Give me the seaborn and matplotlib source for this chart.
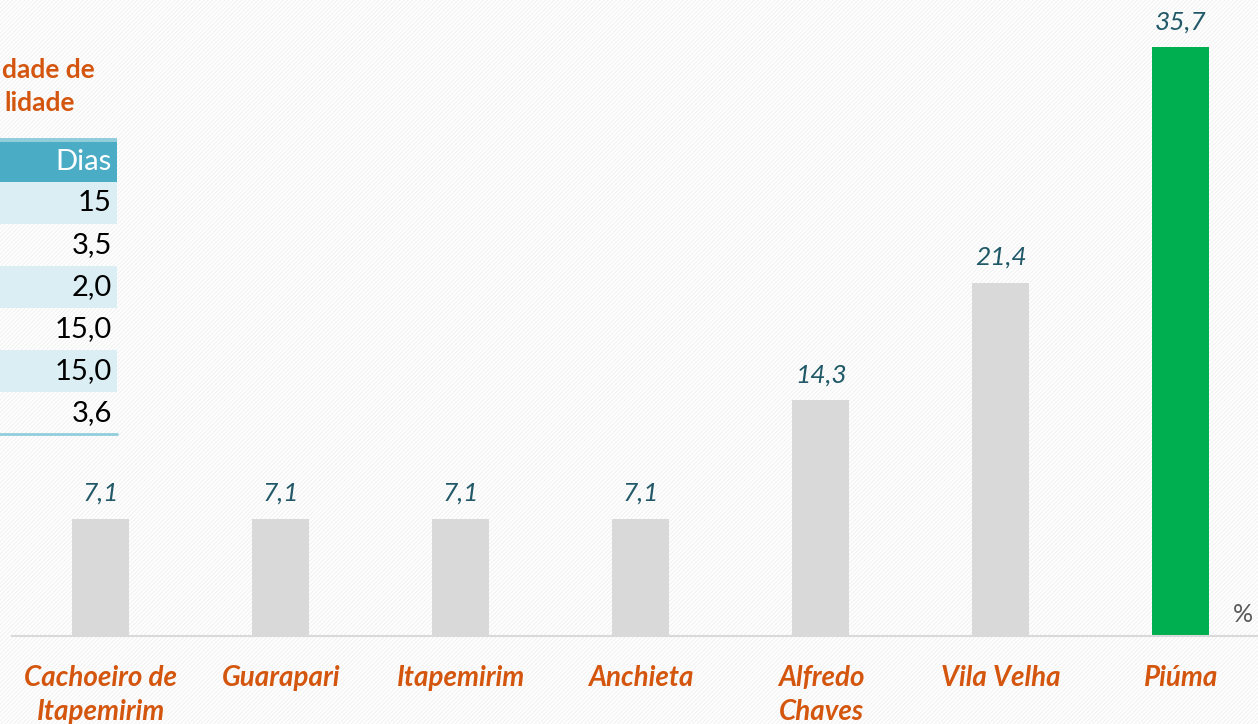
import pandas as pd
import matplotlib.pyplot as plt
from matplotlib.patches import Rectangle
import seaborn as sns

# dados do grafico
municipios = ["Cachoeiro de\nItapemirim", "Guarapari", "Itapemirim", "Anchieta",
              "Alfredo\nChaves", "Vila Velha", "Piúma"]
percentual = [7.1, 7.1, 7.1, 7.1, 14.3, 21.4, 35.7]
cores = ["#D9D9D9"] * 6 + ["#00B050"]

# tabela parcialmente visivel
titulo_tabela = ["dade de", "lidade"]
cabecalho = "Dias"
dias = ["15", "3,5", "2,0", "15,0", "15,0", "3,6"]

sns.set_theme(style="white")
plt.rcParams["font.family"] = ["Lato", "DejaVu Sans"]

df = pd.DataFrame({"municipio": municipios, "pct": percentual})

fig = plt.figure(figsize=(12.58, 7.24), dpi=100)
fig.patch.set_facecolor("white")

# fundo listrado
plt.rcParams["hatch.linewidth"] = 0.7
fundo = Rectangle((0, 0), 1, 1, transform=fig.transFigure, facecolor="white",
                  edgecolor="#F0F0F0", linewidth=0, hatch="/" * 8, zorder=-10)
fig.add_artist(fundo)

W, H = 1258, 724
ax = fig.add_axes([12 / W, (H - 636) / H, (W - 12) / W, 636 / H])
ax.set_facecolor("none")

sns.barplot(data=df, x="municipio", y="pct", hue="municipio", palette=cores,
            width=0.317, legend=False, saturation=1, linewidth=0, ax=ax)

ax.set_xlim(-0.494, 6.428)
ax.set_ylim(0, 38.55)
ax.set_xlabel("")
ax.set_ylabel("")
ax.set_yticks([])
for s in ["top", "right", "left"]:
    ax.spines[s].set_visible(False)
ax.spines["bottom"].set_color("#D9D9D9")
ax.spines["bottom"].set_linewidth(1.5)

ax.tick_params(axis="x", length=0, pad=21)
ax.set_xticks(range(len(municipios)))
ax.set_xticklabels(municipios, color="#D4560E", fontsize=20, fontweight="bold",
                   fontstyle="italic", linespacing=1.35)

for i, v in enumerate(percentual):
    ax.annotate(f"{v:.1f}".replace(".", ","), (i, v), xytext=(0, 10),
                textcoords="offset points", ha="center", va="bottom",
                fontsize=19, fontstyle="italic", color="#215968")

ax.text(1243 / W, (H - 614) / H, "%", transform=fig.transFigure, ha="center",
        va="center", fontsize=18, color="#595959")

# tabela de dias no canto superior esquerdo
ov = fig.add_axes([0, 0, 1, 1], zorder=5)
ov.set_xlim(0, W)
ov.set_ylim(H, 0)
ov.axis("off")
ov.set_facecolor("none")

for k, linha in enumerate(titulo_tabela):
    ov.text(95 if k == 0 else 75, 70 + k * 33, linha, ha="right", va="center",
            fontsize=19, fontweight="bold", color="#D4560E")

ov.add_patch(Rectangle((0, 140), 117, 42, facecolor="#4BACC6", edgecolor="none"))
ov.add_patch(Rectangle((0, 138), 117, 4, facecolor="#92CDDC", edgecolor="none"))
ov.text(112, 162, cabecalho, ha="right", va="center", fontsize=21, color="white")
y0 = 182
for k, d in enumerate(dias):
    if k % 2 == 0:
        ov.add_patch(Rectangle((0, y0 + k * 42), 117, 42, facecolor="#DAEEF3",
                               edgecolor="none"))
    ov.text(112, y0 + k * 42 + 21, d, ha="right", va="center", fontsize=21,
            color="black")
ov.plot([0, 117], [434, 434], color="#92CDDC", lw=2)

fig.savefig("out.png", dpi=100, facecolor="white")
